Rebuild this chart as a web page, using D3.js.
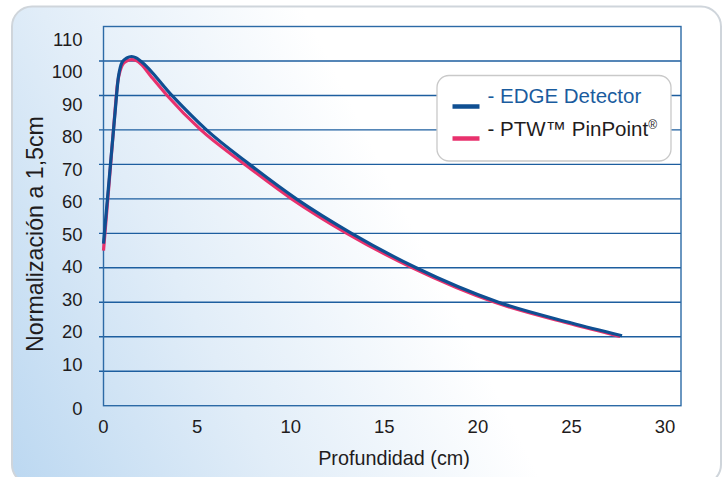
<!DOCTYPE html>
<html>
<head>
<meta charset="utf-8">
<script src="https://cdn.jsdelivr.net/npm/d3@7"></script>
<style>
  html, body { margin: 0; padding: 0; background: #ffffff; }
  svg { display: block; font-family: "Liberation Sans", Arial, Helvetica, sans-serif; }
</style>
</head>
<body>
<svg id="chart" width="723" height="477"></svg>
<script>
// ---- Data ----
const edgeDepth = [0, 0.3, 0.6, 0.8, 0.9, 1.0, 1.25, 1.5, 1.75, 2.0, 3.65, 5.5, 7.8, 10.3, 13.25, 16.7, 21.1, 25.0, 27.7];
const edgeValue = [47, 65.5, 84, 95.5, 98.2, 99.7, 100.9, 101.3, 100.9, 99.9, 90, 80, 70, 60, 50, 40, 30, 24, 20.3];
const ptwDepth  = [0, 0.3, 0.6, 0.75, 0.9, 1.0, 1.25, 1.5, 1.75, 2.0, 2.5, 3.4, 5.2, 7.55, 10.05, 13.0, 16.5, 20.9, 25.0, 27.6];
const ptwValue  = [45, 64.5, 84.5, 93.5, 97.4, 98.8, 100.0, 100.4, 100.1, 99.1, 95.8, 90, 80, 70, 60, 50, 40, 30, 23.7, 20.1];
const xTicks = [0, 5, 10, 15, 20, 25, 30];
const yTicks = [0, 10, 20, 30, 40, 50, 60, 70, 80, 90, 100, 110];
const gridValues = [10, 20, 30, 40, 50, 60, 70, 80, 90, 100];
const seriesNames = ["EDGE Detector", "PTW\u2122 PinPoint"];
const xTitle = "Profundidad (cm)";
const yTitle = "Normalizaci\u00f3n a 1,5cm";

// ---- Layout ----
const W = 723, H = 477;
const plot = { left: 103.5, right: 681, top: 26.5, bottom: 405.7 };
const blue = "#0f4f92", pink = "#e8316d", gridColor = "#1d5e9f";

const svg = d3.select("#chart");
const defs = svg.append("defs");
const grad = defs.append("linearGradient")
  .attr("id", "bg").attr("gradientUnits", "userSpaceOnUse")
  .attr("x1", 12).attr("y1", 477).attr("x2", 433).attr("y2", 265);
grad.append("stop").attr("offset", "0").attr("stop-color", "#bcd8f1");
grad.append("stop").attr("offset", "0.5").attr("stop-color", "#e1edf8");
grad.append("stop").attr("offset", "1").attr("stop-color", "#ffffff");

// card
svg.append("rect")
  .attr("x", 12).attr("y", 6.5).attr("width", 709).attr("height", 478)
  .attr("rx", 20).attr("ry", 20)
  .attr("fill", "url(#bg)").attr("stroke", "#cfd5db").attr("stroke-width", 2);

// scales
const x = d3.scaleLinear().domain([0, 30.85]).range([plot.left, plot.right]);
const y = d3.scaleLinear().domain([0, 110]).range([plot.bottom, plot.top]);
// tick label positions in the reference are not aligned to the grid
const yLab = d3.scaleLinear().domain([0, 10, 110]).range([408, 364.3, 39]);

// gridlines
svg.append("g").selectAll("line").data(gridValues).join("line")
  .attr("x1", plot.left - 4.5).attr("x2", plot.right)
  .attr("y1", d => y(d)).attr("y2", d => y(d))
  .attr("stroke", gridColor).attr("stroke-width", 1.4);

// frame
svg.append("rect")
  .attr("x", plot.left).attr("y", y(110))
  .attr("width", plot.right - plot.left).attr("height", plot.bottom - y(110))
  .attr("fill", "none").attr("stroke", "#2c6aa6").attr("stroke-width", 1.4);

// y tick labels
svg.append("g").selectAll("text").data(yTicks).join("text")
  .attr("x", 82.5).attr("y", d => yLab(d)).attr("dy", "0.36em")
  .attr("text-anchor", "end").attr("font-size", 18.5).attr("fill", "#1f1c1d")
  .text(d => d);

// x tick labels
svg.append("g").selectAll("text").data(xTicks).join("text")
  .attr("x", d => x(d)).attr("y", 433)
  .attr("text-anchor", "middle").attr("font-size", 18.5).attr("fill", "#1f1c1d")
  .text(d => d);

// axis titles
svg.append("text")
  .attr("x", 394).attr("y", 465)
  .attr("text-anchor", "middle").attr("font-size", 19.8).attr("fill", "#1f1c1d")
  .text(xTitle);
svg.append("text")
  .attr("transform", "translate(43,234) rotate(-90)")
  .attr("text-anchor", "middle").attr("font-size", 23.2).attr("fill", "#1f1c1d")
  .text(yTitle);

// lines
const line = d3.line().x(d => x(d[0])).y(d => y(d[1])).curve(d3.curveMonotoneX);
svg.append("path")
  .datum(d3.zip(ptwDepth, ptwValue))
  .attr("d", line).attr("fill", "none").attr("stroke", pink)
  .attr("stroke-width", 3.2).attr("stroke-linejoin", "round");
svg.append("path")
  .datum(d3.zip(edgeDepth, edgeValue))
  .attr("d", line).attr("fill", "none").attr("stroke", blue)
  .attr("stroke-width", 3.2).attr("stroke-linejoin", "round");

// legend
const lg = svg.append("g");
lg.append("rect")
  .attr("x", 437).attr("y", 75.5).attr("width", 234).attr("height", 85.5)
  .attr("rx", 12).attr("ry", 12)
  .attr("fill", "#ffffff").attr("stroke", "#c9c9c9").attr("stroke-width", 1.3);
lg.append("line").attr("x1", 452.5).attr("x2", 479.5).attr("y1", 106.5).attr("y2", 106.5)
  .attr("stroke", blue).attr("stroke-width", 4.5);
lg.append("line").attr("x1", 452.5).attr("x2", 479.5).attr("y1", 138.5).attr("y2", 138.5)
  .attr("stroke", pink).attr("stroke-width", 4.5);
lg.append("text").attr("x", 487.5).attr("y", 103)
  .attr("font-size", 20.5).attr("fill", "#1a5c9e")
  .text("- " + seriesNames[0]);
const t2 = lg.append("text").attr("x", 487.5).attr("y", 135.5)
  .attr("font-size", 20.5).attr("fill", "#1f1c1d");
t2.append("tspan").text("- " + seriesNames[1]);
t2.append("tspan").attr("font-size", 12).attr("dy", -7).text("\u00ae");
</script>
</body>
</html>
